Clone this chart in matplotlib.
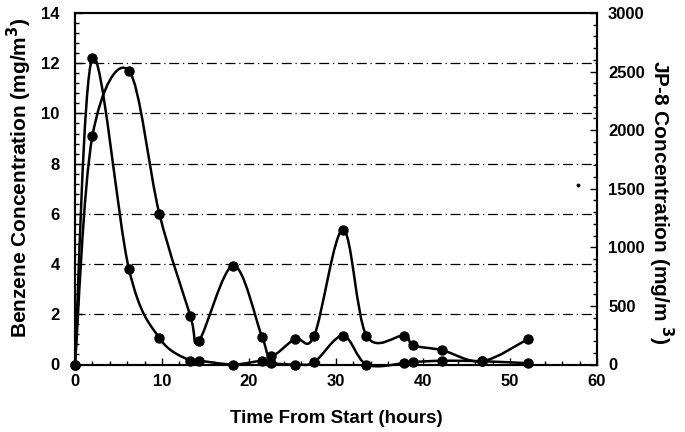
import matplotlib
matplotlib.use("Agg")
import matplotlib.pyplot as plt
from matplotlib.path import Path
from matplotlib.patches import PathPatch
from matplotlib.ticker import MultipleLocator
import numpy as np

# ---- data ----
time_h = [0, 2, 6.2, 9.7, 13.25, 14.25, 18.2, 21.5, 22.5, 25.3, 27.5, 30.8,
          33.5, 37.8, 38.9, 42.2, 46.8, 52.1]
benzene = [0, 9.1, 11.7, 6.0, 1.95, 0.95, 3.94, 1.1, 0.33, 1.02, 1.15, 5.37,
           1.15, 1.15, 0.76, 0.57, 0.13, 1.02]
jp8 = [0, 2614, 814, 225, 32, 32, 0, 32, 11, 0, 21, 246,
       0, 11, 21, 32, 28, 11]
stray_x = [57.8]
stray_y = [1534]

x_ticks = [0, 10, 20, 30, 40, 50, 60]
left_ticks = [0, 2, 4, 6, 8, 10, 12, 14]
right_ticks = [0, 500, 1000, 1500, 2000, 2500, 3000]

plt.rcParams['font.family'] = ['Liberation Sans', 'DejaVu Sans']
plt.rcParams['font.weight'] = 'bold'

fig = plt.figure(figsize=(6.85, 4.32), dpi=100)
ax = fig.add_axes([75/685, 1-364.5/432, (597-75)/685, (364.5-13)/432])
ax2 = ax.twinx()


def smooth_path(xs, ys):
    pts = np.column_stack([xs, ys]).astype(float)
    n = len(pts)
    verts = [pts[0]]
    codes = [Path.MOVETO]
    for i in range(n - 1):
        p0 = pts[i - 1] if i > 0 else pts[i]
        p1 = pts[i]
        p2 = pts[i + 1]
        p3 = pts[i + 2] if i + 2 < n else pts[i + 1]
        c1 = p1 + (p2 - p0) / 6.0
        c2 = p2 - (p3 - p1) / 6.0
        verts += [c1, c2, p2]
        codes += [Path.CURVE4] * 3
    return Path(verts, codes)


for a, ys in ((ax, benzene), (ax2, jp8)):
    patch = PathPatch(smooth_path(time_h, ys), facecolor='none',
                      edgecolor='black', lw=1.8, transform=a.transData,
                      clip_on=False, zorder=3)
    a.add_patch(patch)
    a.plot(time_h, ys, 'o', color='black', ms=6.5, clip_on=False, zorder=4)

ax2.plot(stray_x, stray_y, 'o', color='black', ms=1.8)

ax.set_xlim(0, 60)
ax.set_ylim(0, 14)
ax2.set_ylim(0, 3000)

ax.set_xticks(x_ticks)
ax.set_yticks(left_ticks)
ax2.set_yticks(right_ticks)
ax.xaxis.set_minor_locator(MultipleLocator(2))
ax.yaxis.set_minor_locator(MultipleLocator(0.4))
ax2.yaxis.set_minor_locator(MultipleLocator(100))

for y in left_ticks[1:-1]:
    ax.axhline(y, color='black', lw=0.9, ls=(0, (8, 3, 1, 3)), zorder=1)

for a in (ax, ax2):
    for s in a.spines.values():
        s.set_linewidth(1.5)
    a.tick_params(which='both', direction='in', labelsize=12, width=1)
    a.tick_params(which='major', length=5)
    a.tick_params(which='minor', length=3)
ax.tick_params(axis='x', pad=7)
ax.tick_params(axis='y', pad=11)
ax2.tick_params(axis='y', pad=8)

for lab in ax.get_xticklabels() + ax.get_yticklabels() + ax2.get_yticklabels():
    lab.set_fontweight('bold')

ax.set_xlabel('Time From Start (hours)', fontsize=13.5, fontweight='bold', labelpad=15)
ax.set_ylabel('Benzene Concentration (mg/m$^\\mathbf{3}$)', fontsize=15,
              fontweight='bold', labelpad=5)
ax2.set_ylabel('JP-8 Concentration (mg/m $^\\mathbf{3}$)', fontsize=15,
               fontweight='bold', rotation=-90, labelpad=22)
ax.yaxis.label.set_y(0.531)
ax2.yaxis.label.set_y(0.461)

fig.savefig('out.png', dpi=100)
